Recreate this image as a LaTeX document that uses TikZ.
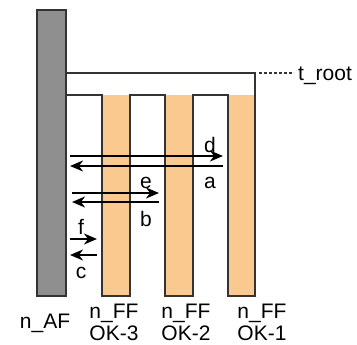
\documentclass[tikz,border=0pt]{standalone}
\usepackage{fontspec}
\setmainfont{Liberation Sans}
\usetikzlibrary{arrows.meta}
\definecolor{afgray}{HTML}{8F8F8F}
\definecolor{ffpeach}{HTML}{F9C98F}
\definecolor{edgegray}{HTML}{333333}
\begin{document}
\begin{tikzpicture}[x=1pt, y=-1pt, line join=miter, font=\fontsize{21}{22}\selectfont,
	wall/.style={draw=edgegray, line width=1.8pt},
	msg/.style={line width=1.6pt, -{Stealth[length=13pt,width=11pt,inset=4pt]}},
	lbl/.style={inner sep=0pt, anchor=base}]
	\useasboundingbox (0,0) rectangle (357,345);
	% Các dải n_FF
	\fill[ffpeach] (102,95) rectangle (130,296);
	\fill[ffpeach] (165,95) rectangle (193,296);
	\fill[ffpeach] (228,95) rectangle (255,296);
	% Đường bao
	\draw[wall] (66,73) -- (255,73) -- (255,296) -- (228,296) -- (228,95) -- (193,95)
		-- (193,296) -- (165,296) -- (165,95) -- (130,95) -- (130,296) -- (102,296)
		-- (102,95) -- (66,95);
	\draw[wall, fill=afgray] (37,10) rectangle (66,296);
	% t_root
	\coordinate (rootend) at (259,73);
	\node[lbl, anchor=base west] (troot) at (298,81) {t\_root};
	\coordinate (rootlbl) at (294,73);
	\draw[edgegray, line width=1.2pt, dash pattern=on 3pt off 2pt] (rootend) -- (rootlbl);
	% Các mũi tên
	\coordinate (dL) at (70,156);
	\coordinate (dR) at (223,156);
	\coordinate (aR) at (223,166);
	\coordinate (aL) at (70,166);
	\coordinate (eL) at (72,193);
	\coordinate (eR) at (159,193);
	\coordinate (bR) at (159,202);
	\coordinate (bL) at (72,202);
	\coordinate (fL) at (70,239);
	\coordinate (fR) at (97,239);
	\coordinate (cR) at (97,255);
	\coordinate (cL) at (70,255);
	\draw[msg] (dL) -- (dR);
	\draw[msg] (aR) -- (aL);
	\draw[msg] (eL) -- (eR);
	\draw[msg] (bR) -- (bL);
	\draw[msg] (fL) -- (fR);
	\draw[msg] (cR) -- (cL);
	\node[lbl] (d) at (210,153) {d};
	\node[lbl] (a) at (210,189) {a};
	\node[lbl] (e) at (146,189) {e};
	\node[lbl] (b) at (146,227) {b};
	\node[lbl] (f) at (81,235) {f};
	\node[lbl] (c) at (81,279) {c};
	% Nhãn dưới
	\node[lbl] (nAF) at (45,329) {n\_AF};
	\node[inner sep=0pt, anchor=north, align=center] (nFF3) at (114,304) {n\_FF\\OK-3};
	\node[inner sep=0pt, anchor=north, align=center] (nFF2) at (186,304) {n\_FF\\OK-2};
	\node[inner sep=0pt, anchor=north, align=center] (nFF1) at (262,304) {n\_FF\\OK-1};
\end{tikzpicture}
\end{document}
